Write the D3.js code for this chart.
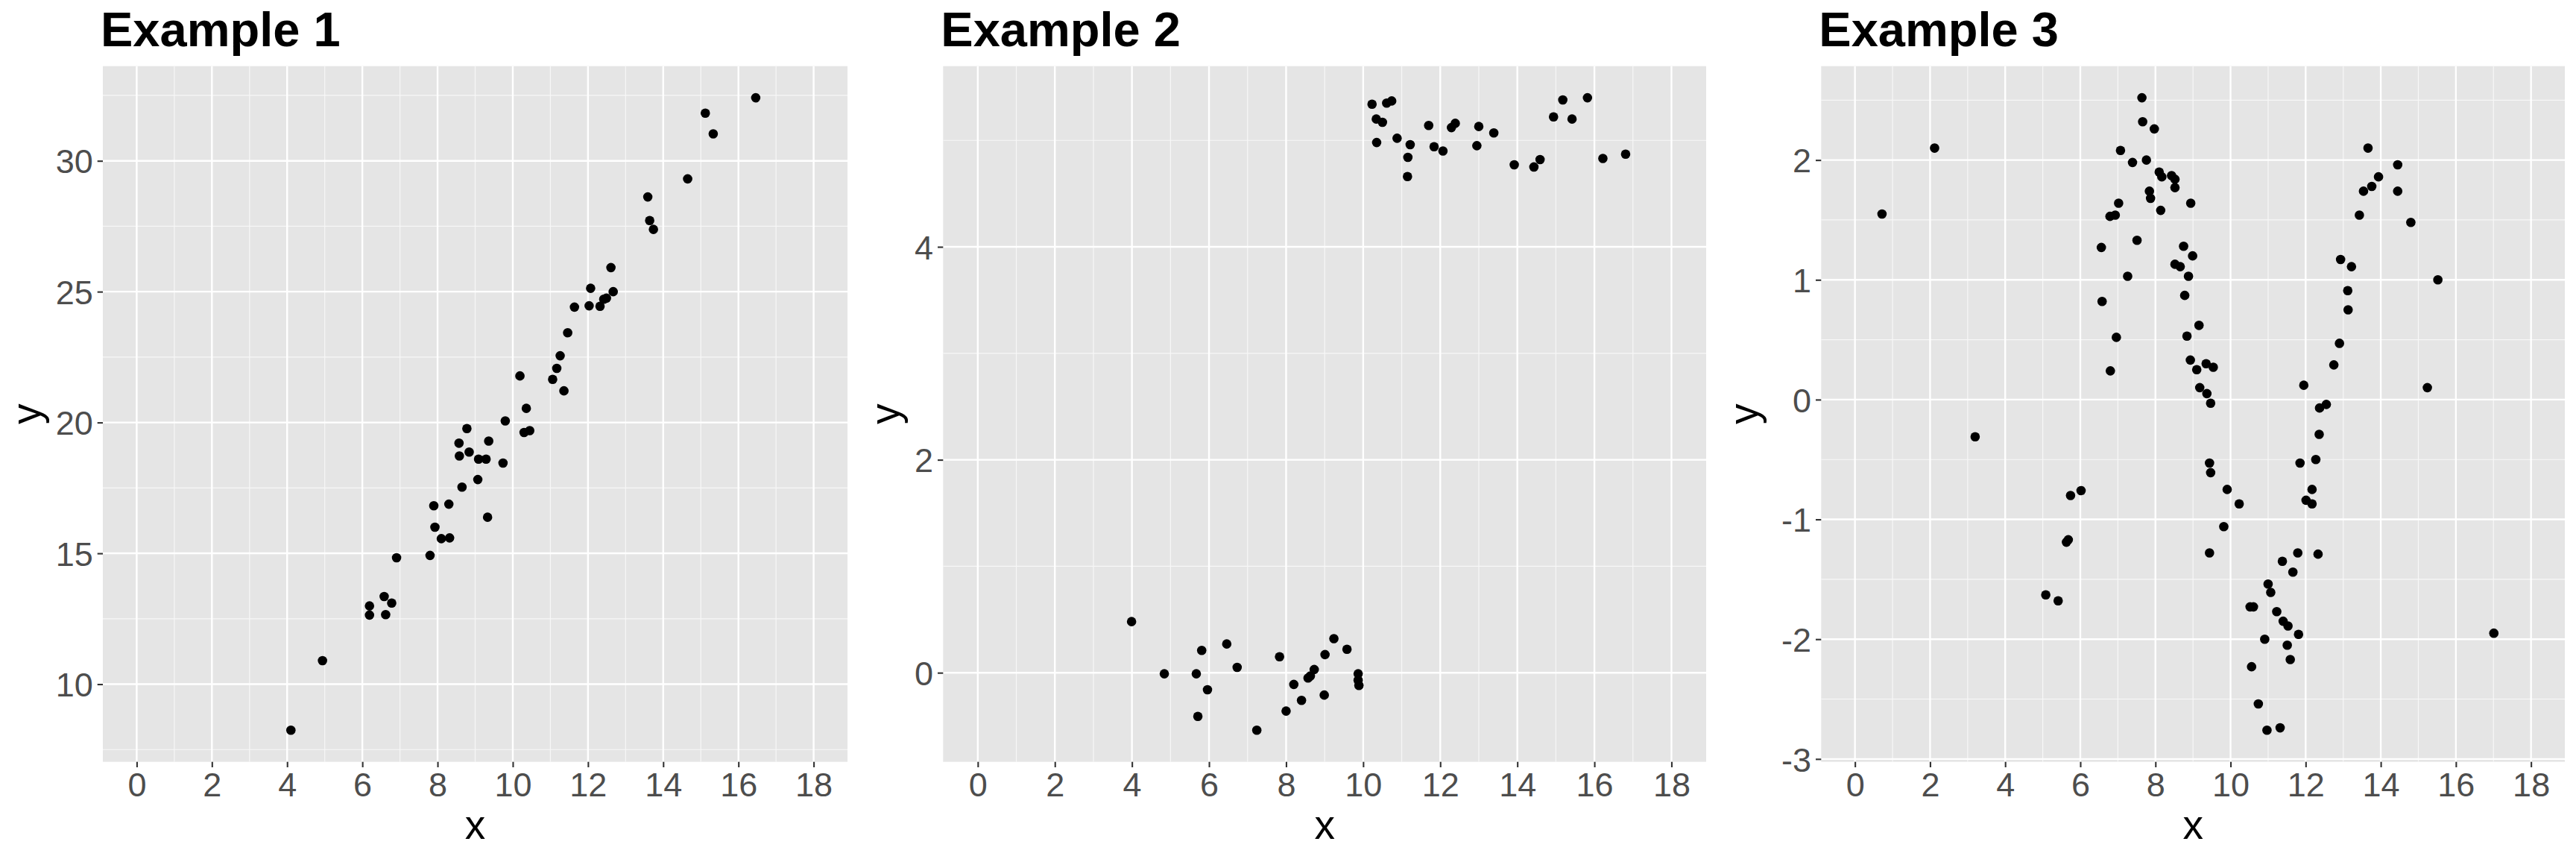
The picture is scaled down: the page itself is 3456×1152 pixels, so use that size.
<!DOCTYPE html>
<html>
<head>
<meta charset="utf-8">
<script src="https://cdn.jsdelivr.net/npm/d3@7"></script>
<style>
  html, body { margin: 0; padding: 0; background: #ffffff; }
  svg { display: block; }
  text { font-family: "Liberation Sans", Arial, Helvetica, sans-serif; }
</style>
</head>
<body>
<svg id="chart" width="3456" height="1152"></svg>
<script>
// ---------------- DATA ----------------
const titles = ["Example 1", "Example 2", "Example 3"];
const xLimits = [0, 18];
const xTicks = [0, 2, 4, 6, 8, 10, 12, 14, 16, 18];
const yTicks1 = [10, 15, 20, 25, 30];
const yTicks2 = [0, 2, 4];
const yTicks3 = [-3, -2, -1, 0, 1, 2];

const ex1X = [4.10, 4.94, 6.19, 6.19, 6.58, 6.62, 6.78, 6.91, 7.80, 7.90,
              7.93, 8.10, 8.32, 8.30, 8.57, 8.58, 8.65, 8.78, 8.84, 9.09,
              9.07, 9.29, 9.36, 9.33, 9.74, 9.80, 10.19, 10.36, 10.30, 10.45,
              11.06, 11.17, 11.26, 11.36, 11.46, 11.64, 12.03, 12.07, 12.32, 12.42,
              12.49, 12.61, 12.67, 13.59, 13.64, 13.74, 14.65, 15.12, 15.33, 16.46];
const ex1Y = [8.24, 10.90, 12.99, 12.64, 13.35, 12.66, 13.10, 14.83, 14.92, 16.82,
              16.00, 15.56, 15.59, 16.88, 19.21, 18.72, 17.53, 19.77, 18.87, 18.60,
              17.82, 18.60, 19.29, 16.38, 18.45, 20.06, 21.78, 20.54, 19.62, 19.69,
              21.65, 22.07, 22.55, 21.21, 23.43, 24.41, 24.46, 25.13, 24.44, 24.71,
              24.75, 25.92, 25.00, 28.62, 27.72, 27.38, 29.31, 31.82, 31.03, 32.41];

const ex2X = [3.99, 4.84, 5.67, 5.81, 5.71, 5.96, 6.46, 6.73, 7.24, 7.83,
              8.00, 8.20, 8.40, 8.57, 8.63, 8.73, 8.99, 9.01, 9.24, 9.58,
              9.87, 9.87, 9.89,
              10.23, 10.34, 10.35, 10.50, 10.61, 10.74, 10.88, 11.15, 11.16, 11.22,
              11.70, 11.84, 12.07, 12.29, 12.39, 12.95, 13.00, 13.39, 13.92, 14.43,
              14.59, 14.94, 15.18, 15.42, 15.82, 16.22, 16.81];
const ex2Y = [0.48, -0.01, -0.01, 0.21, -0.41, -0.16, 0.27, 0.05, -0.54, 0.15,
              -0.36, -0.11, -0.26, -0.05, -0.03, 0.03, -0.21, 0.17, 0.32, 0.22,
              -0.01, -0.07, -0.12,
              5.34, 5.20, 4.98, 5.17, 5.35, 5.37, 5.02, 4.66, 4.84, 4.96,
              5.14, 4.94, 4.90, 5.12, 5.16, 4.95, 5.13, 5.07, 4.77, 4.75,
              4.82, 5.22, 5.38, 5.20, 5.40, 4.83, 4.87];

const ex3X = [0.72, 2.12, 3.20, 5.08, 5.41, 5.63, 5.68, 5.74, 6.02, 6.56,
              6.58, 6.80, 6.79, 6.93, 6.96, 7.02, 7.07, 7.26, 7.39, 7.51,
              7.64, 7.66, 7.76, 7.84, 7.87, 7.97, 8.10, 8.14, 8.17, 8.43,
              8.52, 8.52, 8.52, 8.66, 8.75, 8.78, 8.84, 8.88, 8.94, 8.93,
              8.99, 9.10, 9.16, 9.18, 9.35, 9.37, 9.54, 9.47, 9.44, 9.47,
              9.44, 9.82, 9.91, 10.23, 10.52, 10.61, 10.56, 10.74, 10.91, 10.97,
              11.00, 11.07, 11.23, 11.32, 11.38, 11.40, 11.53, 11.51, 11.59, 11.66,
              11.79, 11.81, 11.85, 11.95, 12.01, 12.17, 12.17, 12.27, 12.33, 12.36,
              12.37, 12.55, 12.75, 12.90, 12.93, 13.12, 13.13, 13.22, 13.43, 13.54,
              13.66, 13.76, 13.94, 14.45, 14.45, 14.80, 15.24, 15.52, 17.01];
const ex3Y = [1.55, 2.10, -0.31, -1.63, -1.68, -1.19, -1.17, -0.80, -0.76, 1.27,
              0.82, 0.24, 1.53, 1.54, 0.52, 1.64, 2.08, 1.03, 1.98, 1.33,
              2.52, 2.32, 2.00, 1.74, 1.68, 2.26, 1.90, 1.58, 1.86, 1.87,
              1.84, 1.77, 1.13, 1.11, 1.28, 0.87, 0.53, 1.03, 1.64, 0.33,
              1.20, 0.25, 0.62, 0.10, 0.30, 0.05, 0.27, -0.03, -0.53, -0.61,
              -1.28, -1.06, -0.75, -0.87, -1.73, -1.73, -2.23, -2.54, -2.00, -2.76,
              -1.54, -1.61, -1.77, -2.74, -1.35, -1.85, -1.89, -2.05, -2.17, -1.44,
              -1.28, -1.96, -0.53, 0.12, -0.84, -0.75, -0.87, -0.50, -1.29, -0.29,
              -0.07, -0.04, 0.29, 0.47, 1.17, 0.91, 0.75, 1.11, 1.54, 1.74,
              2.10, 1.78, 1.86, 1.96, 1.74, 1.48, 0.10, 1.00, -1.95];

// ---------------- LAYOUT ----------------
const panels = [
  { x: ex1X, y: ex1Y, yTicks: yTicks1, title: titles[0], start: 0,    left: 138,    right: 1137 },
  { x: ex2X, y: ex2Y, yTicks: yTicks2, title: titles[1], start: 1152, left: 1265.3, right: 2289 },
  { x: ex3X, y: ex3Y, yTicks: yTicks3, title: titles[2], start: 2304, left: 2443.3, right: 3441 }
];
const plotTop = 88.7, plotBottom = 1021.7;
const bg = "#E5E5E5";

const svg = d3.select("#chart");

function expand(ext, mult) {
  const d = (ext[1] - ext[0]) * mult;
  return [ext[0] - d, ext[1] + d];
}

panels.forEach(p => {
  const g = svg.append("g");
  const xScale = d3.scaleLinear().domain(expand(xLimits, 0.05)).range([p.left, p.right]);
  const yScale = d3.scaleLinear().domain(expand(d3.extent(p.y), 0.05)).range([plotBottom, plotTop]);

  // panel background
  g.append("rect")
    .attr("x", p.left).attr("y", plotTop)
    .attr("width", p.right - p.left).attr("height", plotBottom - plotTop)
    .attr("fill", bg);

  // minor grid
  const xMinor = d3.range(xTicks.length - 1).map(i => (xTicks[i] + xTicks[i + 1]) / 2);
  const yStep = p.yTicks[1] - p.yTicks[0];
  const yDom = yScale.domain();
  const yMinor = [];
  for (let v = p.yTicks[0] - yStep / 2; v <= yDom[1]; v += yStep) {
    if (v >= yDom[0]) yMinor.push(v);
  }
  g.selectAll(".xminor").data(xMinor).enter().append("line")
    .attr("x1", d => xScale(d)).attr("x2", d => xScale(d))
    .attr("y1", plotTop).attr("y2", plotBottom)
    .attr("stroke", "#F7F7F7").attr("stroke-width", 1.2);
  g.selectAll(".yminor").data(yMinor).enter().append("line")
    .attr("x1", p.left).attr("x2", p.right)
    .attr("y1", d => yScale(d)).attr("y2", d => yScale(d))
    .attr("stroke", "#F7F7F7").attr("stroke-width", 1.2);

  // major grid
  g.selectAll(".xmajor").data(xTicks).enter().append("line")
    .attr("x1", d => xScale(d)).attr("x2", d => xScale(d))
    .attr("y1", plotTop).attr("y2", plotBottom)
    .attr("stroke", "#FFFFFF").attr("stroke-width", 2.4);
  g.selectAll(".ymajor").data(p.yTicks).enter().append("line")
    .attr("x1", p.left).attr("x2", p.right)
    .attr("y1", d => yScale(d)).attr("y2", d => yScale(d))
    .attr("stroke", "#FFFFFF").attr("stroke-width", 2.4);

  // axes
  const xAxis = d3.axisBottom(xScale).tickValues(xTicks).tickSize(7.3).tickPadding(9).tickFormat(d3.format("d"));
  const xg = g.append("g").attr("transform", `translate(0,${plotBottom})`).call(xAxis);
  xg.select(".domain").remove();
  xg.selectAll(".tick line").attr("stroke", "#333333").attr("stroke-width", 2.1);
  xg.selectAll(".tick text")
    .attr("fill", "#4D4D4D").attr("font-size", 45)
    .attr("dy", null).attr("y", 46.5)
    .style("font-family", '"Liberation Sans", Arial, sans-serif');

  const yAxis = d3.axisLeft(yScale).tickValues(p.yTicks).tickSize(7.3).tickPadding(6)
    .tickFormat(d => String(d));
  const yg = g.append("g").attr("transform", `translate(${p.left},0)`).call(yAxis);
  yg.select(".domain").remove();
  yg.selectAll(".tick line").attr("stroke", "#333333").attr("stroke-width", 2.1);
  yg.selectAll(".tick text")
    .attr("fill", "#4D4D4D").attr("font-size", 45)
    .attr("dy", "0.36em")
    .style("font-family", '"Liberation Sans", Arial, sans-serif');

  // points
  const pts = p.x.map((xv, i) => ({ x: xv, y: p.y[i] }));
  g.selectAll(".pt").data(pts).enter().append("circle")
    .attr("cx", d => xScale(d.x)).attr("cy", d => yScale(d.y))
    .attr("r", 6.3).attr("fill", "#000000");

  // title
  g.append("text")
    .attr("x", p.left - 3).attr("y", 61.7)
    .attr("font-size", 65).attr("font-weight", "bold").attr("fill", "#000000")
    .text(p.title);

  // axis titles
  g.append("text")
    .attr("x", (p.left + p.right) / 2).attr("y", 1125)
    .attr("text-anchor", "middle").attr("font-size", 55).attr("fill", "#000000")
    .text("x");
  g.append("text")
    .attr("transform", `translate(${p.start + 53.5},${(plotTop + plotBottom) / 2}) rotate(-90)`)
    .attr("text-anchor", "middle").attr("font-size", 55).attr("fill", "#000000")
    .text("y");
});
</script>
</body>
</html>
